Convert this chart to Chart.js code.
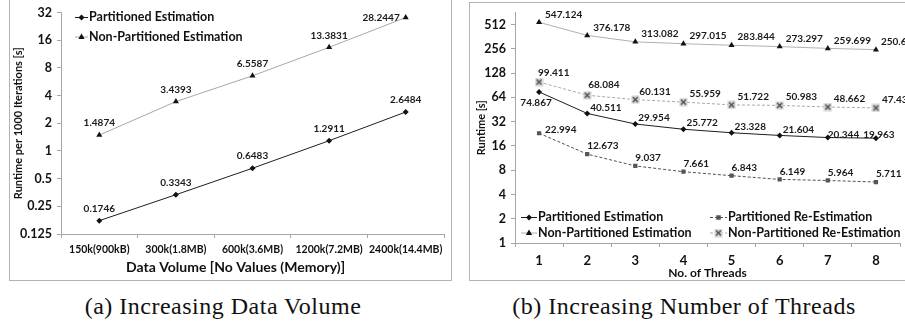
<!DOCTYPE html>
<html><head><meta charset="utf-8">
<script src="https://cdn.jsdelivr.net/npm/chart.js@4.4.1/dist/chart.umd.min.js"></script>
<style>
html,body{margin:0;padding:0;background:#fff;width:905px;height:325px;overflow:hidden;position:relative}
.frame{position:absolute;border:1px solid #b4b4b4;box-sizing:border-box}
.wrap{position:absolute}
.cap{position:absolute;font-family:"Liberation Serif",serif;font-size:24px;line-height:28px;letter-spacing:0.5px;color:#111;white-space:nowrap;transform:translateX(-50%)}
</style></head><body>
<div class="frame" style="left:9px;top:-1px;width:443px;height:282px"></div>
<div class="frame" style="left:469px;top:2px;width:450px;height:279px"></div>
<div class="wrap" style="left:0;top:0;width:451px;height:280px"><canvas id="ca" width="451" height="280"></canvas></div>
<div class="wrap" style="left:469px;top:0;width:436px;height:280px"><canvas id="cb" width="436" height="280"></canvas></div>
<div class="cap" style="left:223px;top:292px">(a) Increasing Data Volume</div>
<div class="cap" style="left:684px;top:292px">(b) Increasing Number of Threads</div>
<script>
// ---- data (a) ----
const categoriesA = ['150k(900kB)','300k(1.8MB)','600k(3.6MB)','1200k(7.2MB)','2400k(14.4MB)'];
const partitionedA = [0.1746, 0.3343, 0.6483, 1.2911, 2.6484];
const nonPartitionedA = [1.4874, 3.4393, 6.5587, 13.3831, 28.2447];
const yTicksA = [0.125, 0.25, 0.5, 1, 2, 4, 8, 16, 32];

// ---- data (b) ----
const threadsB = ['1','2','3','4','5','6','7','8'];
const partEstB = [74.867, 40.511, 29.954, 25.772, 23.328, 21.604, 20.344, 19.963];
const nonPartEstB = [547.124, 376.178, 313.082, 297.015, 283.844, 273.297, 259.699, 250.654];
const partReEstB = [22.994, 12.673, 9.037, 7.661, 6.843, 6.149, 5.964, 5.711];
const nonPartReEstB = [99.411, 68.084, 60.131, 55.959, 51.722, 50.983, 48.662, 47.436];
const yTicksB = [1, 2, 4, 8, 16, 32, 64, 128, 256, 512];

const FONT = 'Lato';
const TXT = '#111';
const AX = '#a6a6a6';

// boxed-cross marker image
const boxCross = (() => {
  const c = document.createElement('canvas'); c.width = 9; c.height = 9;
  const g = c.getContext('2d');
  g.fillStyle = '#d2d2d2'; g.fillRect(0.5, 0.5, 8, 8);
  g.strokeStyle = '#4a4a4a'; g.lineWidth = 1.3;
  g.beginPath(); g.moveTo(2, 2); g.lineTo(7, 7); g.moveTo(7, 2); g.lineTo(2, 7); g.stroke();
  return c;
})();

function drawMarker(ctx, style, x, y, r, fill, stroke){
  ctx.save();
  ctx.fillStyle = fill; ctx.strokeStyle = stroke; ctx.lineWidth = 1; ctx.setLineDash([]);
  if (style instanceof HTMLCanvasElement) {
    ctx.drawImage(style, x - style.width / 2, y - style.height / 2);
    ctx.restore(); return;
  }
  ctx.beginPath();
  if (style === 'rectRot') {
    ctx.moveTo(x, y - r); ctx.lineTo(x + r, y); ctx.lineTo(x, y + r); ctx.lineTo(x - r, y); ctx.closePath(); ctx.fill();
  } else if (style === 'triangle') {
    ctx.moveTo(x, y - r); ctx.lineTo(x + r * 0.9, y + r * 0.6); ctx.lineTo(x - r * 0.9, y + r * 0.6); ctx.closePath(); ctx.fill();
  } else if (style === 'rect') {
    ctx.rect(x - r * 0.75, y - r * 0.75, r * 1.5, r * 1.5); ctx.fill();
  }
  ctx.restore();
}

const dataLabels = {
  id: 'dataLabels',
  afterDatasetsDraw(chart, args, opts) {
    const ctx = chart.ctx;
    ctx.save();
    ctx.font = opts.font; ctx.fillStyle = opts.color; ctx.textBaseline = 'middle';
    chart.data.datasets.forEach((ds, i) => {
      const meta = chart.getDatasetMeta(i);
      const lp = ds.labelPos || {};
      meta.data.forEach((pt, j) => {
        const o = Object.assign({dx: 0, dy: -12, align: 'center'}, lp.base || {}, (lp.over || {})[j] || {});
        ctx.textAlign = o.align;
        ctx.fillText(String(ds.data[j]), pt.x + o.dx, pt.y + o.dy);
      });
    });
    ctx.restore();
  }
};

const boxLegend = {
  id: 'boxLegend',
  afterDraw(chart, args, opts) {
    const ctx = chart.ctx, ca = chart.chartArea;
    ctx.save();
    ctx.font = opts.font; ctx.textBaseline = 'middle'; ctx.textAlign = 'left';
    opts.items.forEach(it => {
      const ds = chart.data.datasets[it.ds];
      const x0 = ca.left + it.x, x1 = x0 + it.len, y = it.y;
      ctx.save();
      ctx.strokeStyle = ds.borderColor; ctx.lineWidth = ds.borderWidth; ctx.setLineDash(ds.borderDash || []);
      ctx.beginPath(); ctx.moveTo(x0, y + 0.5); ctx.lineTo(x1, y + 0.5); ctx.stroke();
      ctx.restore();
      drawMarker(ctx, ds.pointStyle, (x0 + x1) / 2, y + 0.5, ds.pointRadius, ds.pointBackgroundColor, ds.pointBorderColor);
      ctx.fillStyle = TXT;
      ctx.fillText(ds.label, x1 + 1, y);
    });
    ctx.restore();
  }
};

function xScale(title, tickSize, titleSize, fitH, titlePadBottom, tickPad) {
  return {
    type: 'category', offset: true,
    grid: {display: true, offset: true, drawOnChartArea: false, drawTicks: true, tickLength: 4, color: AX},
    border: {display: true, color: AX, width: 1},
    ticks: {font: {family: FONT, weight: 'bold', size: tickSize}, color: TXT, padding: tickPad, maxRotation: 0, autoSkip: false},
    title: {display: true, text: title, color: TXT, font: {family: FONT, weight: 'bold', size: titleSize, lineHeight: 1.15}, padding: {top: 0, bottom: titlePadBottom}},
    afterFit: s => { s.height = fitH; }
  };
}
function yScale(title, min, max, tickVals, fitW, titlePadTop) {
  return {
    type: 'logarithmic', min: min, max: max,
    afterBuildTicks: s => { s.ticks = tickVals.map(v => ({value: v})); },
    grid: {display: true, drawOnChartArea: false, drawTicks: true, tickLength: 4, color: AX},
    border: {display: true, color: AX, width: 1},
    ticks: {callback: v => String(v), font: {family: FONT, weight: 'bold', size: 12.5}, color: TXT, padding: 5},
    title: {display: true, text: title, color: TXT, font: {family: FONT, weight: 'bold', size: 11}, padding: {top: titlePadTop, bottom: 0}},
    afterFit: s => { s.width = fitW; }
  };
}

new Chart(document.getElementById('ca'), {
  type: 'line',
  data: {
    labels: categoriesA,
    datasets: [
      {label: 'Partitioned Estimation', data: partitionedA, borderColor: '#1e1e1e', borderWidth: 1,
       pointStyle: 'rectRot', pointRadius: 3, pointBackgroundColor: '#111', pointBorderColor: '#111', pointBorderWidth: 0,
       labelPos: {base: {dx: 0, dy: -12, align: 'center'}}},
      {label: 'Non-Partitioned Estimation', data: nonPartitionedA, borderColor: '#a8a8a8', borderWidth: 1,
       pointStyle: 'triangle', pointRadius: 3.5, pointBackgroundColor: '#111', pointBorderColor: '#111', pointBorderWidth: 0,
       labelPos: {base: {dx: 0, dy: -12, align: 'center'}, over: {4: {dx: -6, dy: 0, align: 'right'}}}}
    ]
  },
  options: {
    responsive: false, animation: false, events: [],
    layout: {padding: {left: 0, right: 7, top: 9, bottom: 0}},
    plugins: {
      legend: {display: false}, tooltip: {enabled: false},
      dataLabels: {font: 'bold 10px ' + FONT, color: '#1a1a1a'},
      boxLegend: {font: 'bold 12.5px ' + FONT, items: [{ds: 0, x: 14, len: 13, y: 17}, {ds: 1, x: 14, len: 13, y: 36.5}]}
    },
    scales: {
      x: xScale('Data Volume [No Values (Memory)]          ', 10.5, 14, 46, 4.5, 5),
      y: yScale('Runtime per 1000 Iterations [s]', 0.125, 32, yTicksA, 61, 12)
    }
  },
  plugins: [dataLabels, boxLegend]
});

new Chart(document.getElementById('cb'), {
  type: 'line',
  data: {
    labels: threadsB,
    datasets: [
      {label: 'Partitioned Estimation', data: partEstB, borderColor: '#1e1e1e', borderWidth: 1,
       pointStyle: 'rectRot', pointRadius: 3, pointBackgroundColor: '#111', pointBorderColor: '#111', pointBorderWidth: 0,
       labelPos: {base: {dx: 3, dy: -6, align: 'left'}, over: {0: {dx: -3, dy: 11, align: 'center'}, 6: {dx: 0, dy: -3, align: 'left'}, 7: {dx: 3, dy: -3, align: 'center'}}}},
      {label: 'Non-Partitioned Estimation', data: nonPartEstB, borderColor: '#b0b0b0', borderWidth: 1,
       pointStyle: 'triangle', pointRadius: 3.5, pointBackgroundColor: '#111', pointBorderColor: '#111', pointBorderWidth: 0,
       labelPos: {base: {dx: 6, dy: -8, align: 'left'}, over: {7: {dx: 5, dy: -8, align: 'left'}}}},
      {label: 'Partitioned Re-Estimation', data: partReEstB, borderColor: '#505050', borderWidth: 1, borderDash: [3, 2],
       pointStyle: 'rect', pointRadius: 3, pointBackgroundColor: '#555', pointBorderColor: '#555', pointBorderWidth: 0,
       labelPos: {base: {dx: 0, dy: -8, align: 'left'}, over: {0: {dx: 6, dy: -3, align: 'left'}}}},
      {label: 'Non-Partitioned Re-Estimation', data: nonPartReEstB, borderColor: '#a8a8a8', borderWidth: 1, borderDash: [3, 2],
       pointStyle: boxCross, pointRadius: 4, pointBackgroundColor: '#d2d2d2', pointBorderColor: '#4a4a4a', pointBorderWidth: 1,
       labelPos: {base: {dx: 6, dy: -8.5, align: 'left'}, over: {0: {dx: -1, dy: -9, align: 'left'}, 1: {dx: 1, dy: -10, align: 'left'}, 2: {dx: 4, dy: -8, align: 'left'}}}}
    ]
  },
  options: {
    responsive: false, animation: false, events: [],
    layout: {padding: {left: 0, right: 2, top: 9, bottom: 0}},
    plugins: {
      legend: {display: false}, tooltip: {enabled: false},
      dataLabels: {font: 'bold 10px ' + FONT, color: '#1a1a1a'},
      boxLegend: {font: 'bold 12.5px ' + FONT, items: [
        {ds: 0, x: 6, len: 16, y: 217}, {ds: 2, x: 195, len: 17, y: 217},
        {ds: 1, x: 6, len: 16, y: 232.5}, {ds: 3, x: 195, len: 17, y: 232.5}]}
    },
    scales: {
      x: xScale('No. of Threads', 13, 12, 37, 0, 6),
      y: yScale('Runtime [s]', 1, 724.08, yTicksB, 46, 6)
    }
  },
  plugins: [dataLabels, boxLegend]
});
</script>
</body></html>
